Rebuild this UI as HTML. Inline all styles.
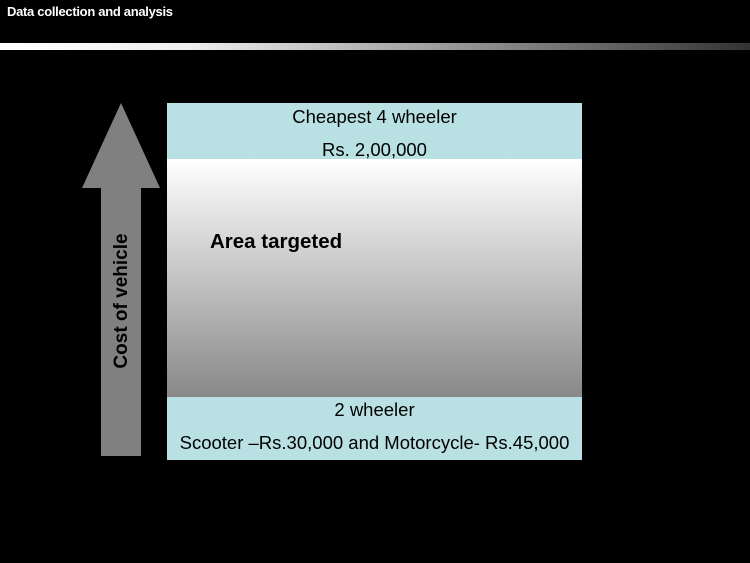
<!DOCTYPE html>
<html><head><style>
body{margin:0;width:750px;height:563px;background:#000;overflow:hidden;position:relative;font-family:"Liberation Sans",Arial,sans-serif}
.t{position:absolute;left:7px;top:4px;color:#fff;font-size:13px;font-weight:bold;letter-spacing:-0.3px}
.bar{position:absolute;left:0;top:43px;width:750px;height:7px;background:linear-gradient(to right,#fff 0%,#eee 25%,#999 60%,#333 100%)}
.blue{position:absolute;left:167px;width:415px;background:#b9e0e3;color:#000;font-size:18.5px;text-align:center}
.grad{position:absolute;left:167px;top:159px;width:415px;height:238px;background:linear-gradient(#fff,#888)}
</style></head><body>
<div class="t">Data collection and analysis</div>
<div class="bar"></div>
<svg style="position:absolute;left:0;top:0" width="750" height="563">
<polygon points="121,103 160,188 141,188 141,456 101,456 101,188 82,188" fill="#808080"/>
<text x="0" y="0" transform="translate(127,301) rotate(-90)" text-anchor="middle" font-family="Liberation Sans,Arial,sans-serif" font-weight="bold" font-size="19" fill="#000">Cost of vehicle</text>
</svg>
<div class="blue" style="top:103px;height:56px"><div style="position:absolute;top:2px;width:100%;line-height:24px">Cheapest 4 wheeler</div><div style="position:absolute;top:35px;width:100%;line-height:24px">Rs. 2,00,000</div></div>
<div class="grad"><div style="position:absolute;left:43px;top:71px;font-size:20.5px;font-weight:bold">Area targeted</div></div>
<div class="blue" style="top:397px;height:63px"><div style="position:absolute;top:1px;width:100%;line-height:24px">2 wheeler</div><div style="position:absolute;top:34px;width:100%;line-height:24px">Scooter –Rs.30,000 and Motorcycle- Rs.45,000</div></div>
</body></html>
